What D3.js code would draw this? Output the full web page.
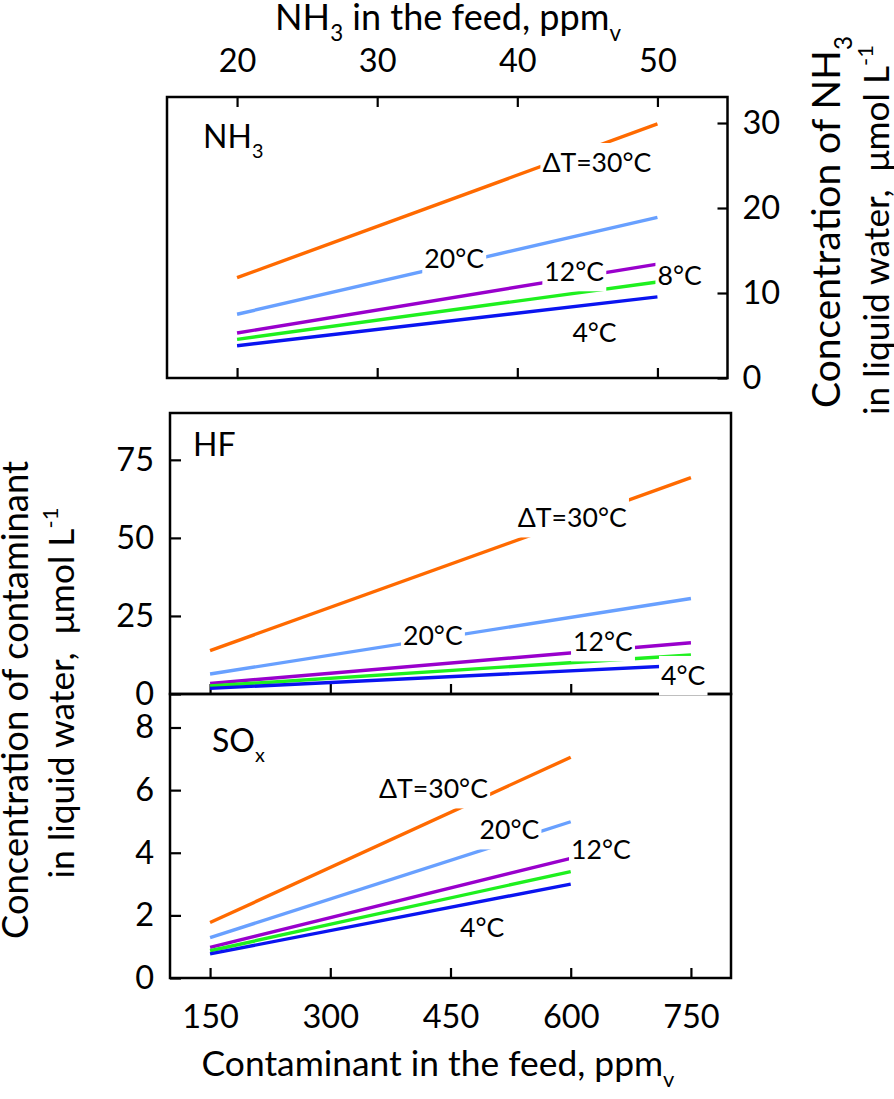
<!DOCTYPE html>
<html><head><meta charset="utf-8">
<script src="https://cdn.jsdelivr.net/npm/d3@7"></script>
<style>
html,body{margin:0;padding:0;background:#fff;}
svg{display:block;}
</style></head>
<body>
<svg id="chart" width="894" height="1099"></svg>
<script>
// ---------------- data ----------------
const seriesLabels = ["ΔT=30°C", "20°C", "12°C", "8°C", "4°C"];
const nh3Feed = [20, 50];
const nh3Conc = [[11.8, 29.9], [7.5, 18.9], [5.3, 13.4], [4.55, 11.3], [3.8, 9.55]];
const hfFeed = [150, 750];
const hfConc = [[13.9, 69.3], [6.4, 30.6], [3.4, 16.4], [2.55, 12.5], [1.8, 9.3]];
const soxFeed = [150, 600];
const soxConc = [[1.77, 7.05], [1.29, 4.99], [0.98, 3.82], [0.87, 3.4], [0.77, 3.0]];
const nh3FeedTicks = [20, 30, 40, 50];
const nh3ConcTicks = [0, 10, 20, 30];
const hfConcTicks = [0, 25, 50, 75];
const soxConcTicks = [0, 2, 4, 6, 8];
const feedTicks = [150, 300, 450, 600, 750];

// ---------------- style / layout ----------------
const palette = ["#ff6a00", "#68a0ff", "#9900cc", "#1ef01e", "#0a14f0"];
const FONT = "Lato, 'Open Sans', 'DejaVu Sans', sans-serif";
const tickFs = 32.5, panelFs = 32, labelFs0 = 27;

const xTop = d3.scaleLinear().domain([15, 55]).range([167, 727.5]);
const xBot = d3.scaleLinear().domain([100, 800]).range([170, 731]);
const yNH3 = d3.scaleLinear().domain([0, 33.06]).range([378, 97]);
const yHF = d3.scaleLinear().domain([0, 90]).range([694, 413]);
const ySOx = d3.scaleLinear().domain([0, 9.07]).range([978, 694]);

// label anchor positions (data units: left x, vertical centre)
const labelPosNH3 = [[41.79, 25.3], [33.36, 14.1], [41.93, 12.5], [50.0, 12.1], [43.93, 5.3]];
const labelPosHF = [[534, 56.4], [390.7, 18.9], [602.9, 16.7], null, [712.7, 5.8]];
const labelPosSOx = [[360.8, 6.04], [486.2, 4.73], [600.4, 4.09], null, [461.9, 1.6]];

const panels = [
  {x: xTop, y: yNH3, feed: nh3Feed, conc: nh3Conc, lab: labelPosNH3},
  {x: xBot, y: yHF, feed: hfFeed, conc: hfConc, lab: labelPosHF},
  {x: xBot, y: ySOx, feed: soxFeed, conc: soxConc, lab: labelPosSOx}
];

const svg = d3.select("#chart").attr("font-family", FONT);
svg.append("rect").attr("width", 894).attr("height", 1099).attr("fill", "#fff");
const gFrames = svg.append("g");
const gAxes = svg.append("g");
const gLines = svg.append("g");
const gLabels = svg.append("g");
const gText = svg.append("g");

// frames
panels.forEach(p => {
  const [x0, x1] = p.x.range();
  const [y0, y1] = p.y.range();
  gFrames.append("rect")
    .attr("x", x0).attr("y", y1).attr("width", x1 - x0).attr("height", y0 - y1)
    .attr("fill", "none").attr("stroke", "#000").attr("stroke-width", 2.5);
});

function styleAxis(g) {
  g.attr("font-family", null).attr("font-size", null);
  g.select(".domain").remove();
  g.selectAll(".tick line").attr("stroke", "#000").attr("stroke-width", 2.2);
  g.selectAll(".tick text").attr("fill", "#000").attr("font-size", tickFs);
}
function addAxis(axis, tx, ty) {
  const g = gAxes.append("g").attr("transform", `translate(${tx},${ty})`).call(axis);
  styleAxis(g);
  return g;
}

// top panel axes
addAxis(d3.axisTop(xTop).tickValues(nh3FeedTicks).tickSize(-10).tickPadding(25), 0, yNH3.range()[1]);
addAxis(d3.axisBottom(xTop).tickValues(nh3FeedTicks).tickSize(-10).tickFormat(""), 0, yNH3.range()[0]);
addAxis(d3.axisRight(yNH3).tickValues(nh3ConcTicks).tickSize(-10).tickPadding(15), xTop.range()[1], 0);
// HF axes
addAxis(d3.axisLeft(yHF).tickValues(hfConcTicks).tickSize(-11).tickPadding(16), xBot.range()[0], 0);
addAxis(d3.axisBottom(xBot).tickValues(feedTicks).tickSize(-10).tickFormat(""), 0, yHF.range()[0]);
// SOx axes
addAxis(d3.axisLeft(ySOx).tickValues(soxConcTicks).tickSize(-11).tickPadding(16), xBot.range()[0], 0);
addAxis(d3.axisBottom(xBot).tickValues(feedTicks).tickSize(-10).tickPadding(27), 0, ySOx.range()[0]);

// lines
panels.forEach(p => {
  const line = d3.line().x(d => p.x(d.f)).y(d => p.y(d.v));
  gLines.selectAll(null)
    .data(p.conc.map((vals, i) => ({i, pts: p.feed.map((f, k) => ({f, v: vals[k]}))})))
    .join("path")
    .attr("d", d => line(d.pts))
    .attr("fill", "none")
    .attr("stroke", d => palette[d.i])
    .attr("stroke-width", 3.4)
    .attr("stroke-linecap", "butt");
});

// curve label font size fitted
const probe = svg.append("text").attr("font-size", labelFs0).text(seriesLabels[0]);
const labelFs = labelFs0 * 109 / probe.node().getComputedTextLength();
probe.remove();

panels.forEach(p => {
  p.lab.forEach((pos, i) => {
    if (!pos) return;
    const g = gLabels.append("g");
    const r = g.append("rect").attr("fill", "#fff");
    const t = g.append("text")
      .attr("x", p.x(pos[0])).attr("y", p.y(pos[1]))
      .attr("dy", "0.358em")
      .attr("font-size", labelFs)
      .attr("fill", "#000")
      .text(seriesLabels[i]);
    const b = t.node().getBBox();
    r.attr("x", b.x - 2).attr("y", b.y - 3.5).attr("width", b.width + 4).attr("height", b.height + 7.5);
  });
});

// panel labels
function subText(parent, x, y, fs, parts) {
  const t = parent.append("text").attr("x", x).attr("y", y).attr("font-size", fs).attr("fill", "#000");
  parts.forEach(pt => {
    const s = t.append("tspan").text(pt.t);
    if (pt.sub) s.attr("font-size", "62%").attr("dy", "0.5em");
    else if (pt.sup) s.attr("font-size", "62%").attr("dy", "-0.75em");
    if (pt.back) s.attr("dy", pt.back);
  });
  return t;
}
subText(gText, 203, 148, panelFs, [{t: "NH"}, {t: "3", sub: true}]);
subText(gText, 193, 456, panelFs, [{t: "HF"}]);
subText(gText, 212, 752, panelFs, [{t: "SO"}, {t: "x", sub: true}]);

function fit(t, target) {
  const w = t.node().getComputedTextLength();
  t.attr("font-size", parseFloat(t.attr("font-size")) * target / w);
}

// axis titles
const topTitle = subText(gText, 448, 30, 32, [{t: "NH"}, {t: "3", sub: true}, {t: " in the feed, ppm", back: "-0.31em"}, {t: "v", sub: true}])
  .attr("text-anchor", "middle");
fit(topTitle, 346);
const botTitle = subText(gText, 438, 1076, 32, [{t: "Contaminant in the feed, ppm"}, {t: "v", sub: true}])
  .attr("text-anchor", "middle");
fit(botTitle, 473);

const l1 = subText(gText, 0, 0, 32, [{t: "Concentration of contaminant"}])
  .attr("text-anchor", "middle").attr("transform", "translate(28,700) rotate(-90)");
fit(l1, 478);
const l2 = subText(gText, 0, 0, 32, [{t: "in liquid water,\u00a0 μmol L"}, {t: "-1", sup: true}])
  .attr("text-anchor", "middle").attr("transform", "translate(74,693) rotate(-90)");
fit(l2, 371);
const r1 = subText(gText, 0, 0, 32, [{t: "Concentration of NH"}, {t: "3", sub: true}])
  .attr("text-anchor", "middle").attr("transform", "translate(840,222) rotate(-90)");
fit(r1, 372);
const r2 = subText(gText, 0, 0, 32, [{t: "in liquid water,\u00a0 μmol L"}, {t: "-1", sup: true}])
  .attr("text-anchor", "middle").attr("transform", "translate(889,230) rotate(-90)");
fit(r2, 370);
</script>
</body></html>
